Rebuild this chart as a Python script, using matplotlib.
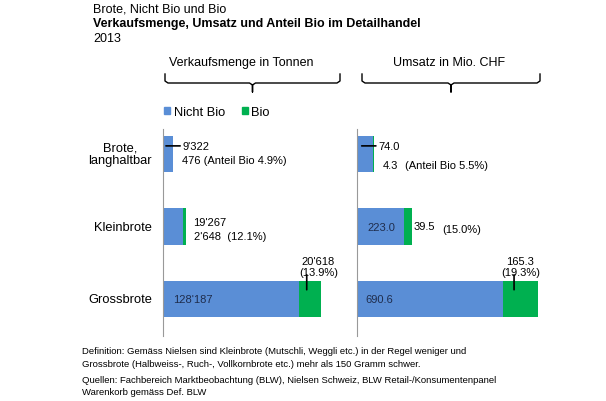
import numpy as np
import matplotlib.pyplot as plt
from matplotlib.patches import Patch
from matplotlib.transforms import offset_copy

plt.rcParams.update({'font.family': ['Liberation Sans', 'DejaVu Sans'], 'font.size': 9})

# data
kategorien = ['Brote,\nlanghaltbar', 'Kleinbrote', 'Grossbrote']
menge_nicht_bio = np.array([9322, 19267, 128187])
menge_bio = np.array([476, 2648, 20618])
umsatz_nicht_bio = np.array([74.0, 223.0, 690.6])
umsatz_bio = np.array([4.3, 39.5, 165.3])
menge_labels_nb = ["9'322", "19'267", "128'187"]
menge_labels_b = ["476 (Anteil Bio 4.9%)", "2'648  (12.1%)", "20'618\n(13.9%)"]
umsatz_labels_nb = ["74.0", "223.0", "690.6"]
umsatz_labels_b = ["4.3", "39.5", "165.3\n(19.3%)"]

blau = '#5A8ED6'
gruen = '#00B050'
dunkel = '#1F2D4D'
fs = 8

W, H = 606, 402
fig = plt.figure(figsize=(W / 100, H / 100), dpi=100)


def rect(x0, y0, x1, y1):
    return [x0 / W, 1 - y1 / H, (x1 - x0) / W, (y1 - y0) / H]


# overlay for titles, braces and notes in pixel coordinates
ov = fig.add_axes([0, 0, 1, 1])
ov.set_xlim(0, W)
ov.set_ylim(H, 0)
ov.axis('off')

ov.text(93, 10, 'Brote, Nicht Bio und Bio', fontsize=9, va='center')
ov.text(93, 24, 'Verkaufsmenge, Umsatz und Anteil Bio im Detailhandel', fontsize=9,
        fontweight='bold', va='center')
ov.text(93, 39, '2013', fontsize=9, va='center')


def klammer(x0, x1, titel, xt):
    xm = (x0 + x1) / 2
    ov.plot([x0, x0, x0 + 3, xm - 3, xm, xm, xm, xm + 3, x1 - 3, x1, x1],
            [75, 82, 84, 84, 86, 93, 86, 84, 84, 82, 75], color='black', lw=1)
    ov.text(xt, 63, titel, ha='center', va='center', fontsize=9)


klammer(165, 340, 'Verkaufsmenge in Tonnen', 241)
klammer(362, 540, 'Umsatz in Mio. CHF', 449)

for yy, txt in zip([352, 365, 381, 393],
                   ['Definition: Gemäss Nielsen sind Kleinbrote (Mutschli, Weggli etc.) in der Regel weniger und',
                    'Grossbrote (Halbweiss-, Ruch-, Vollkornbrote etc.) mehr als 150 Gramm schwer.',
                    'Quellen: Fachbereich Marktbeobachtung (BLW), Nielsen Schweiz, BLW Retail-/Konsumentenpanel',
                    'Warenkorb gemäss Def. BLW']):
    ov.text(82, yy, txt, fontsize=6.8, va='center')

fig.legend([Patch(color=blau), Patch(color=gruen)], ['Nicht Bio', 'Bio'],
           loc='center left', bbox_to_anchor=(164 / W, 1 - 113 / H), ncol=2,
           frameon=False, handlelength=0.5, handleheight=0.5, handletextpad=0.25,
           columnspacing=1.3, fontsize=9.3, borderaxespad=0, borderpad=0)

y = np.arange(len(kategorien))
ax1 = fig.add_axes(rect(163, 130, 340, 337))
ax2 = fig.add_axes(rect(357, 130, 545, 337))

for ax, nb, b, xmax in [(ax1, menge_nicht_bio, menge_bio, 167000),
                        (ax2, umsatz_nicht_bio, umsatz_bio, 890)]:
    ax.barh(y, nb, height=0.5, color=blau)
    ax.barh(y, b, left=nb, height=0.5, color=gruen)
    ax.set_xlim(0, xmax)
    ax.set_ylim(2 + 37 / 73, -25 / 73)
    for s in ['top', 'right', 'bottom']:
        ax.spines[s].set_visible(False)
    ax.spines['left'].set_color('#999999')
    ax.set_xticks([])
    ax.set_yticks([])
    ax.patch.set_alpha(0)

# category labels left of the first axis
lab_tr = offset_copy(ax1.transData, fig=fig, x=-11, y=0, units='dots')
for i, k in enumerate(kategorien):
    ax1.text(0, i, k, transform=lab_tr, ha='right', va='center', fontsize=9.3,
             multialignment='center', linespacing=1.1)

# Brote, langhaltbar
for ax, nb, b, lnb, lb, dy in [(ax1, menge_nicht_bio, menge_bio, menge_labels_nb, menge_labels_b, 6),
                               (ax2, umsatz_nicht_bio, umsatz_bio, umsatz_labels_nb, umsatz_labels_b, 12)]:
    ax.annotate(lnb[0], xy=(nb[0] * 0.3, -0.11), xytext=(17, 0), textcoords='offset pixels',
                va='center', ha='left', fontsize=fs,
                arrowprops=dict(arrowstyle='-', color='black', lw=1.2, shrinkA=0, shrinkB=0))
    ax.annotate(lb[0], xy=(0, -0.11), xytext=(19 if ax is ax1 else 26, -14 - (dy - 6) * 0.8),
                textcoords='offset pixels', va='center', ha='left', fontsize=fs)
ax2.annotate('(Anteil Bio 5.5%)', xy=(0, -0.11), xytext=(48, -19), textcoords='offset pixels',
             va='center', ha='left', fontsize=fs)

# Kleinbrote
ax1.annotate(menge_labels_nb[1], xy=(menge_nicht_bio[1] + menge_bio[1], 1), xytext=(7, 5),
             textcoords='offset pixels', va='center', ha='left', fontsize=fs)
ax1.annotate(menge_labels_b[1], xy=(menge_nicht_bio[1] + menge_bio[1], 1), xytext=(8, -9),
             textcoords='offset pixels', va='center', ha='left', fontsize=fs)
ax2.annotate(umsatz_labels_nb[1], xy=(0, 1), xytext=(10, 0),
             textcoords='offset pixels', va='center', ha='left', fontsize=fs, color=dunkel)
ax2.annotate(umsatz_labels_b[1], xy=(umsatz_nicht_bio[1] + umsatz_bio[1], 1), xytext=(1, 1),
             textcoords='offset pixels', va='center', ha='left', fontsize=fs)
ax2.annotate('(15.0%)', xy=(umsatz_nicht_bio[1] + umsatz_bio[1], 1), xytext=(30, -2),
             textcoords='offset pixels', va='center', ha='left', fontsize=fs)

# Grossbrote
for ax, nb, b, lnb, lb, xoff, tx, lx in [
        (ax1, menge_nicht_bio, menge_bio, menge_labels_nb, menge_labels_b, 10, 0.9, 0.36),
        (ax2, umsatz_nicht_bio, umsatz_bio, umsatz_labels_nb, umsatz_labels_b, 8, 0.5, 0.32)]:
    ax.annotate(lnb[2], xy=(0, 2), xytext=(xoff, 0), textcoords='offset pixels',
                va='center', ha='left', fontsize=fs, color=dunkel)
    ax.annotate(lb[2], xy=(nb[2] + b[2] * tx, 2), xytext=(0, 33), textcoords='offset pixels',
                va='center', ha='center', fontsize=fs, linespacing=1.15)
    ax.annotate('', xy=(nb[2] + b[2] * lx, 2 - 0.13), xytext=(0, 15), textcoords='offset pixels',
                arrowprops=dict(arrowstyle='-', color='black', lw=1.2, shrinkA=0, shrinkB=0))

fig.savefig('out.png', dpi=100)
